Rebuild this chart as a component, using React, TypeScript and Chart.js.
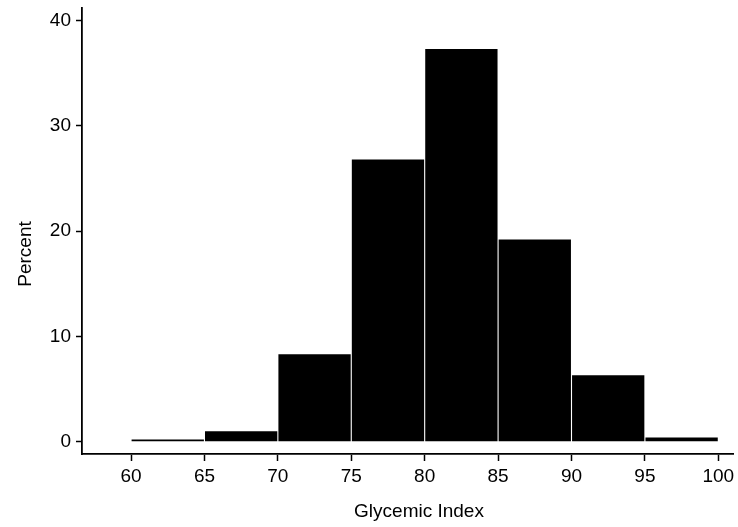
import React, { useEffect, useRef } from "react";
import { Chart, registerables } from "chart.js";

Chart.register(...registerables);

const binCenters = [62.5, 67.5, 72.5, 77.5, 82.5, 87.5, 92.5, 97.5];
const percentValues = [0.2, 1.0, 8.3, 26.8, 37.3, 19.2, 6.3, 0.4];
const xTicks = [60, 65, 70, 75, 80, 85, 90, 95, 100];
const yTicks = [0, 10, 20, 30, 40];
const xTitle = "Glycemic Index";
const yTitle = "Percent";

const FONT = "'Liberation Sans', Arial, Helvetica, sans-serif";

const titlePlugin = {
  id: "axisTitles",
  afterDraw(chart: any) {
    const { ctx, chartArea } = chart;
    ctx.save();
    ctx.fillStyle = "#000";
    ctx.font = `19px ${FONT}`;
    ctx.textAlign = "center";
    ctx.textBaseline = "alphabetic";
    ctx.fillText(xTitle, (chartArea.left + chartArea.right) / 2 + 11.5, chartArea.bottom + 63);
    ctx.translate(chartArea.left - 51, (chartArea.top + chartArea.bottom) / 2 + 23);
    ctx.rotate(-Math.PI / 2);
    ctx.fillText(yTitle, 0, 0);
    ctx.restore();
  },
};

export default function App() {
  const ref = useRef<HTMLCanvasElement | null>(null);
  useEffect(() => {
    if (!ref.current) return;
    const chart = new Chart(ref.current, {
      type: "bar",
      data: {
        datasets: [
          {
            data: binCenters.map((x, i) => ({ x, y: percentValues[i] })),
            backgroundColor: "#000",
            borderWidth: 0,
            barPercentage: 0.985,
            categoryPercentage: 1,
          },
        ],
      },
      options: {
        animation: false,
        responsive: true,
        maintainAspectRatio: false,
        layout: { padding: { top: 8, right: 5, left: 0, bottom: 0 } },
        plugins: { legend: { display: false }, tooltip: { enabled: false } },
        scales: {
          x: {
            type: "linear",
            min: 56.66,
            max: 101.0,
            offset: false,
            afterBuildTicks: (axis: any) => {
              axis.ticks = xTicks.map((v) => ({ value: v }));
            },
            afterFit: (s: any) => {
              s.height = 73;
              s.paddingLeft = 0;
              s.paddingRight = 0;
            },
            grid: {
              offset: false,
              drawOnChartArea: false,
              drawTicks: true,
              tickLength: 7,
              tickWidth: 1.5,
              tickColor: "#000",
            },
            border: { display: true, color: "#000", width: 1.8 },
            ticks: {
              color: "#000",
              font: { size: 19, family: FONT },
              padding: 4,
              maxRotation: 0,
              autoSkip: false,
            },
          },
          y: {
            type: "linear",
            min: -1.17,
            max: 41.2,
            afterBuildTicks: (axis: any) => {
              axis.ticks = yTicks.map((v) => ({ value: v }));
            },
            afterFit: (s: any) => {
              s.width = 82;
              s.paddingTop = 0;
              s.paddingBottom = 0;
            },
            grid: {
              drawOnChartArea: false,
              drawTicks: true,
              tickLength: 6,
              tickWidth: 1.5,
              tickColor: "#000",
            },
            border: { display: true, color: "#000", width: 1.8 },
            ticks: {
              color: "#000",
              font: { size: 19, family: FONT },
              padding: 5,
              autoSkip: false,
            },
          },
        },
      },
      plugins: [titlePlugin],
    });
    return () => chart.destroy();
  }, []);
  return (
    <div style={{ position: "fixed", left: 0, top: 0, width: 738, height: 527, background: "#fff" }}>
      <canvas ref={ref} />
    </div>
  );
}
